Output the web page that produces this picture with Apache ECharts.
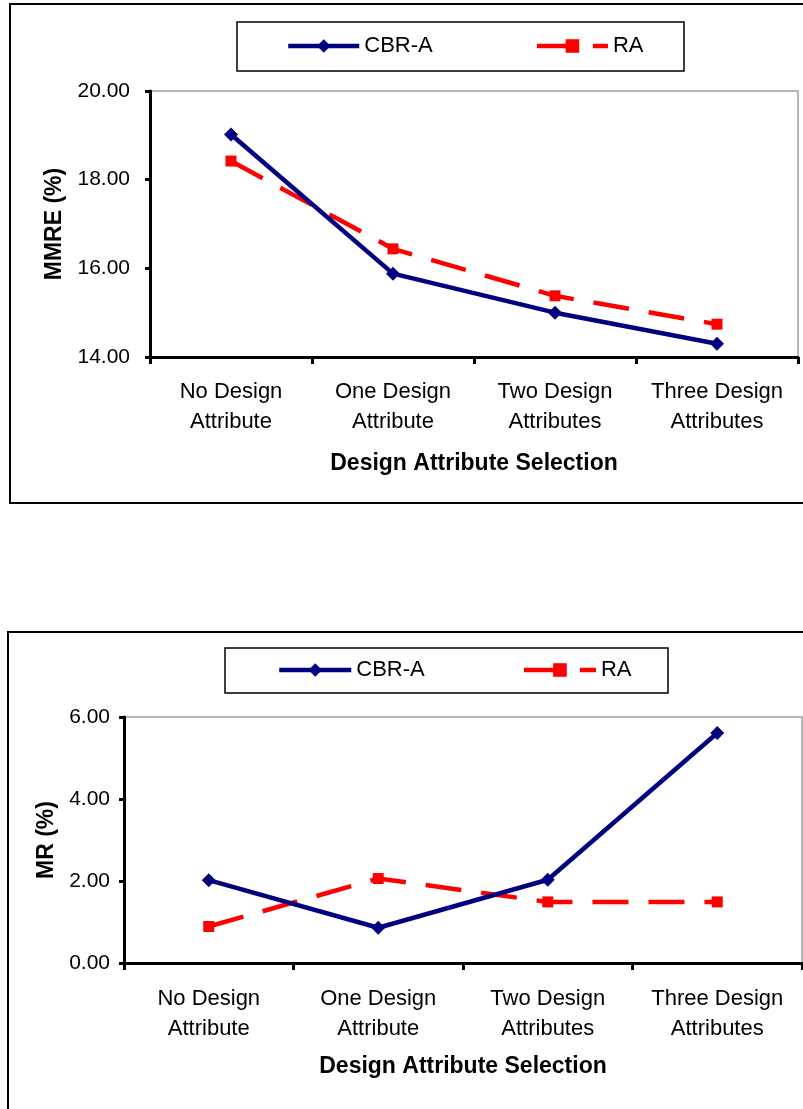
<!DOCTYPE html>
<html>
<head>
<meta charset="utf-8">
<script src="https://cdn.jsdelivr.net/npm/echarts@6/dist/echarts.min.js"></script>
<style>
html,body{margin:0;padding:0;background:#fff;}
#c{width:803px;height:1109px;}
</style>
</head>
<body>
<div id="c"></div>
<script>
const categories = ['No Design\nAttribute', 'One Design\nAttribute', 'Two Design\nAttributes', 'Three Design\nAttributes'];
const seriesNames = ['CBR-A', 'RA'];
const mmreCBR = [19.02, 15.88, 15.00, 14.30];
const mmreRA = [18.42, 16.44, 15.38, 14.74];
const mrCBR = [2.02, 0.86, 2.03, 5.61];
const mrRA = [0.89, 2.06, 1.49, 1.49];
const xTitle = 'Design Attribute Selection';
const yTitles = ['MMRE (%)', 'MR (%)'];

const FONT = '"Liberation Sans", Arial, sans-serif';
const NAVY = '#000080';
const RED = '#ff0000';

function xAxisCfg(gridIndex, labelMargin, nameGap) {
  return {
    type: 'category', gridIndex: gridIndex, data: categories,
    boundaryGap: true,
    axisLine: {lineStyle: {color: '#000', width: 3}},
    axisTick: {show: true, interval: 0, length: 7, lineStyle: {color: '#000', width: 3}},
    axisLabel: {interval: 0, color: '#000', fontSize: 22, fontFamily: FONT, margin: labelMargin, lineHeight: 30},
    splitLine: {show: false},
    name: xTitle, nameLocation: 'middle', nameGap: nameGap,
    nameTextStyle: {color: '#000', fontSize: 23, fontWeight: 'bold', fontFamily: FONT}
  };
}
function yAxisCfg(gridIndex, min, max, interval, labelMargin, name, nameGap) {
  return {
    type: 'value', gridIndex: gridIndex, min: min, max: max, interval: interval,
    axisLine: {show: true, lineStyle: {color: '#000', width: 3}},
    axisTick: {show: true, length: 5, lineStyle: {color: '#000', width: 3}},
    axisLabel: {color: '#000', fontSize: 21, fontFamily: FONT, margin: labelMargin,
      formatter: v => v.toFixed(2)},
    splitLine: {show: false},
    name: name, nameLocation: 'middle', nameGap: nameGap, nameRotate: 90,
    nameTextStyle: {color: '#000', fontSize: 23, fontWeight: 'bold', fontFamily: FONT}
  };
}
function cbr(xi, yi, data) {
  return {
    name: seriesNames[0], type: 'line', xAxisIndex: xi, yAxisIndex: yi, data: data,
    symbol: 'diamond', symbolSize: 14, showSymbol: true,
    lineStyle: {color: NAVY, width: 4.5, type: 'solid'},
    itemStyle: {color: NAVY}, z: 3, animation: false
  };
}
function ra(xi, yi, data) {
  return {
    name: seriesNames[1], type: 'line', xAxisIndex: xi, yAxisIndex: yi, data: data,
    symbol: 'rect', symbolSize: 11, showSymbol: true,
    lineStyle: {color: RED, width: 4.5, type: [36, 20]},
    itemStyle: {color: RED}, z: 2, animation: false
  };
}
function legendCfg(left, top, itemWidth, itemGap) {
  return {
    left: left, top: top, padding: 0, itemWidth: itemWidth, itemHeight: 17, itemGap: itemGap,
    data: seriesNames, textStyle: {color: '#000', fontSize: 22, fontFamily: FONT},
    lineStyle: {width: 4.5}
  };
}

const chart = echarts.init(document.getElementById('c'), null, {renderer: 'canvas'});
chart.setOption({
  backgroundColor: '#fff',
  animation: false,
  textStyle: {fontFamily: FONT},
  graphic: [
    {type: 'rect', shape: {x: 10, y: 4, width: 820, height: 499}, style: {fill: 'none', stroke: '#000', lineWidth: 2}, silent: true},
    {type: 'rect', shape: {x: 8, y: 632, width: 820, height: 520}, style: {fill: 'none', stroke: '#000', lineWidth: 2}, silent: true},
    {type: 'rect', shape: {x: 237, y: 22, width: 447, height: 49}, style: {fill: 'none', stroke: '#000', lineWidth: 1.5}, silent: true},
    {type: 'rect', shape: {x: 225, y: 648, width: 443, height: 45}, style: {fill: 'none', stroke: '#000', lineWidth: 1.5}, silent: true}
  ],
  legend: [legendCfg(286, 35, 71, 102), legendCfg(277, 659, 72, 97)],
  grid: [
    {left: 150, top: 91, width: 648, height: 266, show: true, borderColor: '#a0a0a0', borderWidth: 1.5, backgroundColor: 'transparent'},
    {left: 124, top: 717, width: 678, height: 246, show: true, borderColor: '#a0a0a0', borderWidth: 1.5, backgroundColor: 'transparent'}
  ],
  xAxis: [xAxisCfg(0, 20, 95), xAxisCfg(1, 21, 92)],
  yAxis: [yAxisCfg(0, 14, 20, 2, 20, yTitles[0], 84), yAxisCfg(1, 0, 6, 2, 14, yTitles[1], 59)],
  series: [cbr(0, 0, mmreCBR), ra(0, 0, mmreRA), cbr(1, 1, mrCBR), ra(1, 1, mrRA)]
});
</script>
</body>
</html>
